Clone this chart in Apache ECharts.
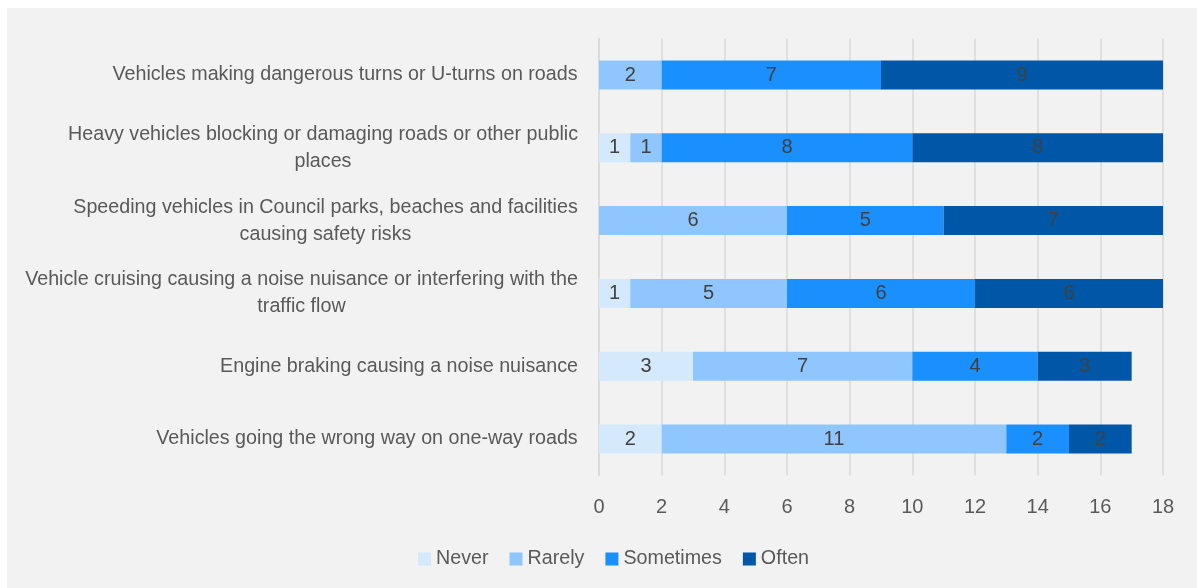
<!DOCTYPE html>
<html>
<head>
<meta charset="utf-8">
<script src="https://cdn.jsdelivr.net/npm/echarts@6/dist/echarts.min.js"></script>
<style>
  html, body { margin: 0; padding: 0; background: #fff; }
  #chart { position: absolute; left: 7px; top: 8px; width: 1190px; height: 580px; background: #f2f2f2; }
</style>
</head>
<body>
<div id="chart"></div>
<script>
// categories, top to bottom
const categories = [
  'Vehicles making dangerous turns or U-turns on roads',
  'Heavy vehicles blocking or damaging roads or other public\nplaces',
  'Speeding vehicles in Council parks, beaches and facilities\ncausing safety risks',
  'Vehicle cruising causing a noise nuisance or interfering with the\ntraffic flow',
  'Engine braking causing a noise nuisance',
  'Vehicles going the wrong way on one-way roads'
]
const seriesNames = ['Never', 'Rarely', 'Sometimes', 'Often']
const never = [0, 1, 0, 1, 3, 2]
const rarely = [2, 1, 6, 5, 7, 11]
const sometimes = [7, 8, 5, 6, 4, 2]
const often = [9, 8, 7, 6, 3, 2]
const xTicks = [0, 2, 4, 6, 8, 10, 12, 14, 16, 18]

const FONT = "'Liberation Sans Narrow', 'Arial Narrow', 'Liberation Sans', sans-serif"
const colors = ['#d5e9fc', '#8fc6fe', '#1a8ffe', '#0057a8']
const LABEL_SIZE = 19.7

// multi-line labels: block right aligned, lines centred within the block
const ctx = document.createElement('canvas').getContext('2d')
ctx.font = LABEL_SIZE + 'px ' + FONT
const rich = {}
categories.forEach((c, i) => {
  const w = Math.max(...c.split('\n').map(s => ctx.measureText(s).width))
  rich['r' + i] = { width: Math.ceil(w), align: 'center', fontSize: LABEL_SIZE, fontFamily: FONT, color: '#595959', lineHeight: 27 }
})

const chart = echarts.init(document.getElementById('chart'))

function makeSeries(name, data, i) {
  return {
    name,
    type: 'bar',
    stack: 'total',
    data,
    barWidth: 29,
    itemStyle: { color: colors[i] },
    label: {
      show: true,
      position: 'inside',
      color: '#404040',
      fontSize: 20,
      fontFamily: FONT,
      formatter: p => p.value ? String(p.value) : ''
    }
  }
}

chart.setOption({
  animation: false,
  textStyle: { fontFamily: FONT },
  grid: { left: 592, right: 34, top: 30.6, bottom: 112.6, containLabel: false },
  legend: {
    data: seriesNames,
    left: 406,
    top: 536,
    itemWidth: 13,
    itemHeight: 13,
    itemGap: 21,
    icon: 'rect',
    textStyle: { fontSize: 19.7, color: '#595959', fontFamily: FONT }
  },
  xAxis: {
    type: 'value',
    min: xTicks[0],
    max: xTicks[xTicks.length - 1],
    interval: 2,
    axisLine: { show: false },
    axisTick: { show: false },
    splitLine: { lineStyle: { color: '#d9d9d9', width: 1.5 } },
    axisLabel: { fontSize: 20, color: '#595959', margin: 22, fontFamily: FONT }
  },
  yAxis: {
    type: 'category',
    inverse: true,
    data: categories,
    axisLine: { show: true, lineStyle: { color: '#d9d9d9', width: 1.5 } },
    axisTick: { show: false },
    axisLabel: {
      margin: 21,
      align: 'right',
      rich,
      formatter: (v, i) => v.split('\n').map(s => '{r' + i + '|' + s + '}').join('\n')
    }
  },
  series: [
    makeSeries(seriesNames[0], never, 0),
    makeSeries(seriesNames[1], rarely, 1),
    makeSeries(seriesNames[2], sometimes, 2),
    makeSeries(seriesNames[3], often, 3)
  ]
})
</script>
</body>
</html>
